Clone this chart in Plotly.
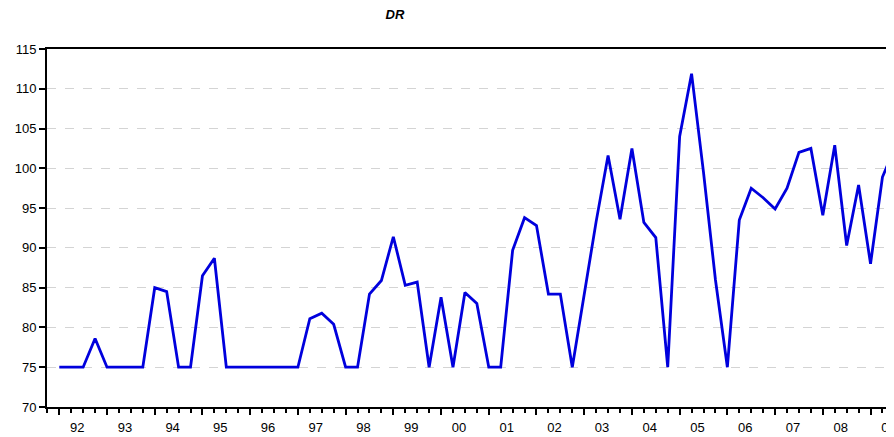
import plotly.graph_objects as go

# Quarterly observations 1992Q1 .. 2009Q3
dr_values = [
    75, 75, 75, 78.6, 75, 75, 75, 75, 85.0, 84.5, 75, 75,          # 92-94
    86.5, 88.7, 75, 75, 75, 75, 75, 75, 75, 81.1, 81.8, 80.4,      # 95-97
    75, 75, 84.2, 85.9, 91.4, 85.3, 85.7, 75, 83.8, 75, 84.4, 83.0,  # 98-00
    75, 75, 89.7, 93.8, 92.8, 84.2, 84.2, 75, 84.0, 93.3, 101.6, 93.6,  # 01-03
    102.5, 93.2, 91.3, 75, 104.0, 111.9, 99.5, 86.0, 75, 93.5, 97.5, 96.3,  # 04-06
    94.9, 97.5, 102.0, 102.5, 94.1, 102.9, 90.3, 97.9, 88.0, 98.9, 102.5  # 07-09
]
year_labels = ["92", "93", "94", "95", "96", "97", "98", "99", "00",
               "01", "02", "03", "04", "05", "06", "07", "08", "09"]
y_ticks = [70, 75, 80, 85, 90, 95, 100, 105, 110, 115]

obs = list(range(len(dr_values)))
label_pos = [4 * k + 1.5 for k in range(len(year_labels))]
year_starts = [4 * k for k in range(len(year_labels))]

FONT = "Liberation Sans, Arial, sans-serif"
# the page body adds an 8px offset; the plot area is placed so it runs to the window edge
W, H = 894, 437
ML, MR, MT, MB = 39, 8, 41, 38
plot_w = W - ML - MR
plot_h = H - MT - MB
xr = [-1.03, -1.03 + plot_w / 11.93]

fig = go.Figure()
fig.add_trace(go.Scatter(x=obs, y=dr_values, mode="lines",
                         line=dict(color="#0000DD", width=2.8),
                         hoverinfo="skip", showlegend=False))
# invisible helper trace so the year-start tick axis is rendered
fig.add_trace(go.Scatter(x=obs, y=dr_values, mode="lines", xaxis="x2",
                         line=dict(color="rgba(0,0,0,0)", width=0),
                         hoverinfo="skip", showlegend=False))

fig.update_layout(
    width=W, height=H,
    margin=dict(l=ML, r=MR, t=MT, b=MB, autoexpand=False),
    paper_bgcolor="white", plot_bgcolor="white",
    font=dict(family=FONT, size=13, color="black"),
    title=dict(text="<b><i>DR</i></b>", x=(387 - ML) / plot_w, xref="paper",
               xanchor="center", y=1 - 6 / H, yref="container",
               yanchor="middle",
               font=dict(family=FONT, size=13, color="black")),
    xaxis=dict(
        range=xr, tickmode="array", tickvals=label_pos, ticktext=year_labels,
        ticks="", showgrid=False, zeroline=False,
        showline=True, linecolor="black", linewidth=2, mirror=True,
        ticklabelstandoff=7, ticklabeloverflow="allow",
        tickfont=dict(family=FONT, size=13, color="black"),
        minor=dict(tick0=0, dtick=1, ticks="outside", ticklen=4,
                   tickwidth=1.5, tickcolor="black", showgrid=False),
    ),
    xaxis2=dict(
        range=xr, overlaying="x", anchor="y", side="bottom",
        tickmode="array", tickvals=year_starts, ticks="outside", ticklen=7,
        tickwidth=1.5, tickcolor="black", showticklabels=False,
        showgrid=False, zeroline=False, showline=False,
    ),
    yaxis=dict(
        range=[70, 115], tickmode="array", tickvals=y_ticks,
        ticks="outside", ticklen=6, tickwidth=1.5, tickcolor="black",
        showline=True, linecolor="black", linewidth=2, mirror=False,
        showgrid=True, gridcolor="#d4d4d4", gridwidth=1, griddash="dash",
        zeroline=False,
        tickfont=dict(family=FONT, size=13, color="black"),
    ),
)

fig.write_html("out.html")
